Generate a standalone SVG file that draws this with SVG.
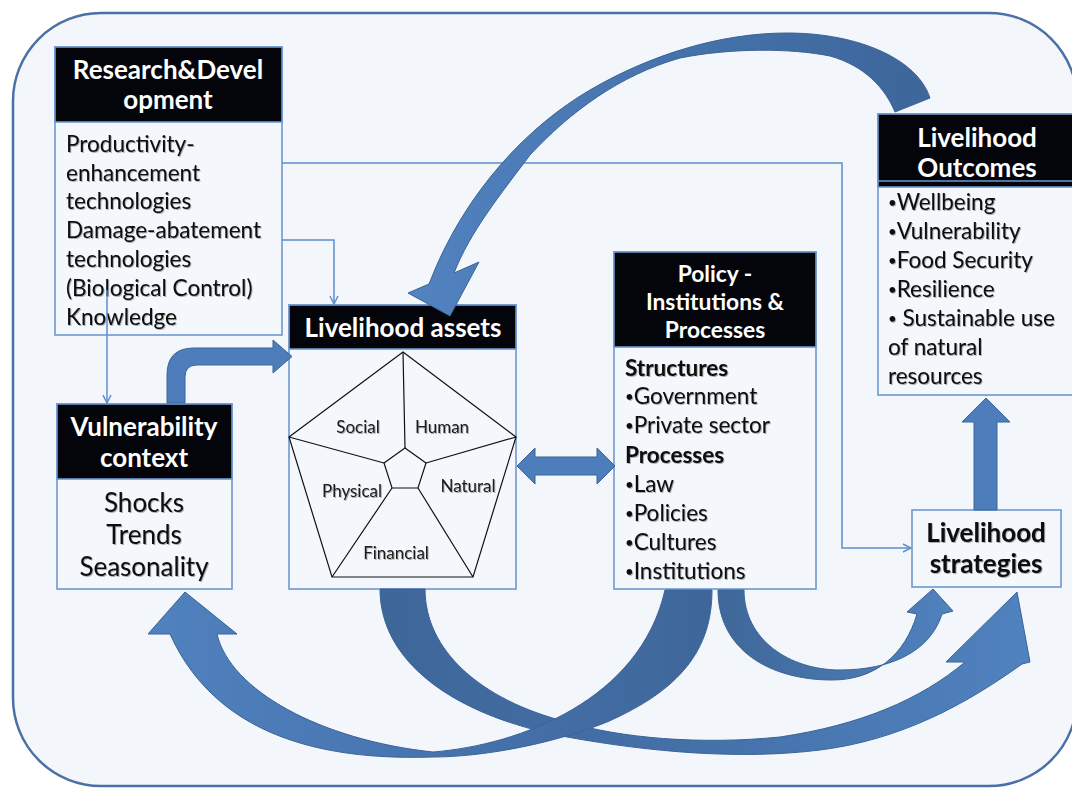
<svg xmlns="http://www.w3.org/2000/svg" width="1072" height="789" viewBox="0 0 1072 789">
<defs>
<style>
.frame{fill:#f3f6fa;stroke:#4b70a6;stroke-width:2.5}
.box{fill:#f4f7fb;stroke:#6f98d0;stroke-width:1.6}
.hdr{fill:#03050a;stroke:#6f98d0;stroke-width:1.6}
.ht{font-family:Lato,'Open Sans',sans-serif;font-weight:700;fill:#fff;text-anchor:middle;font-size:26px}
.bt{font-family:Lato,'Open Sans',sans-serif;fill:#0a0a0a;font-size:22.5px;filter:url(#ts)}
.bu{font-size:15px}
.b{font-weight:700}
.c{text-anchor:middle}
.pent{fill:none;stroke:#111;stroke-width:1.2}
.pl{font-family:Lato,'Open Sans',sans-serif;font-size:17px;fill:#1a1a1a;text-anchor:middle;filter:url(#ts)}
.conn{fill:none;stroke:#5d8fd0;stroke-width:1.5}
.big{stroke:#3a6497;stroke-width:1}
.solid{fill:#4d7ebb;stroke:#3a6497;stroke-width:1}
</style>
<filter id="ts" x="-5%" y="-20%" width="110%" height="140%">
<feDropShadow dx="1" dy="1" stdDeviation="0.7" flood-color="#000" flood-opacity="0.3"/>
</filter>
<marker id="ah" viewBox="0 0 10 10" refX="9" refY="5" markerWidth="10" markerHeight="10" markerUnits="userSpaceOnUse" orient="auto">
<path d="M1,1 L9,5 L1,9" fill="none" stroke="#5d8fd0" stroke-width="1.5"/>
</marker>
<linearGradient id="gTop" x1="0" y1="0" x2="1" y2="0">
<stop offset="0" stop-color="#5283c0"/><stop offset="0.5" stop-color="#4673ad"/><stop offset="1" stop-color="#3d6699"/>
</linearGradient>
<linearGradient id="gPV" x1="0" y1="0" x2="1" y2="0">
<stop offset="0" stop-color="#5082bf"/><stop offset="0.6" stop-color="#4571aa"/><stop offset="1" stop-color="#3e6699"/>
</linearGradient>
<linearGradient id="gAS" x1="0" y1="0" x2="1" y2="0">
<stop offset="0" stop-color="#3e6699"/><stop offset="0.5" stop-color="#4571aa"/><stop offset="1" stop-color="#5082bf"/>
</linearGradient>
<linearGradient id="gPS" x1="0" y1="0" x2="1" y2="0">
<stop offset="0" stop-color="#3f6799"/><stop offset="1" stop-color="#5082bf"/>
</linearGradient>
</defs>
<rect width="1072" height="789" fill="#ffffff"/>
<rect class="frame" x="13" y="13" width="1064" height="773" rx="88" ry="88"/>

<g id="research-development">
<rect class="box" x="55" y="47" width="227" height="288"/>
<rect class="hdr" x="55" y="47" width="227" height="75"/>
<text class="ht" x="168" y="79">Research&amp;Devel</text>
<text class="ht" x="168" y="109">opment</text>
<text class="bt" x="66" y="152">Productivity-</text>
<text class="bt" x="66" y="181">enhancement</text>
<text class="bt" x="66" y="209">technologies</text>
<text class="bt" x="66" y="238">Damage-abatement</text>
<text class="bt" x="66" y="267">technologies</text>
<text class="bt" x="66" y="296">(Biological Control)</text>
<text class="bt" x="66" y="325">Knowledge</text>
</g>

<g id="livelihood-assets">
<rect class="box" x="289" y="305" width="227" height="284"/>
<rect class="hdr" x="289" y="305" width="227" height="44"/>
<text class="ht" x="403" y="337">Livelihood assets</text>
<polygon class="pent" points="403,352 516,437 473,577 332,577 289,437"/>
<polygon class="pent" points="405,448 426,463 418,488 392,488 384,463"/>
<path class="pent" d="M405,448 L403,352 M426,463 L516,437 M418,488 L473,577 M392,488 L332,577 M384,463 L289,437"/>
<text class="pl" x="358" y="433">Social</text>
<text class="pl" x="442" y="433">Human</text>
<text class="pl" x="352" y="497">Physical</text>
<text class="pl" x="468" y="492">Natural</text>
<text class="pl" x="396" y="559">Financial</text>
</g>

<g id="vulnerability-context">
<rect class="box" x="57" y="404" width="175" height="185"/>
<rect class="hdr" x="57" y="404" width="175" height="75"/>
<text class="ht" x="144" y="436">Vulnerability</text>
<text class="ht" x="144" y="467">context</text>
<text class="bt c" x="144" y="512" style="font-size:26px">Shocks</text>
<text class="bt c" x="144" y="544" style="font-size:26px">Trends</text>
<text class="bt c" x="144" y="576" style="font-size:26px">Seasonality</text>
</g>

<g id="policy">
<rect class="box" x="614" y="252" width="202" height="337"/>
<rect class="hdr" x="614" y="252" width="202" height="95"/>
<text class="ht" x="715" y="282" style="font-size:22.8px">Policy -</text>
<text class="ht" x="715" y="310" style="font-size:22.8px">Institutions &amp;</text>
<text class="ht" x="715" y="338" style="font-size:22.8px">Processes</text>
<text class="bt b" x="625" y="376">Structures</text>
<text class="bt" x="625" y="404"><tspan class="bu" baseline-shift="2">•</tspan>Government</text>
<text class="bt" x="625" y="433"><tspan class="bu" baseline-shift="2">•</tspan>Private sector</text>
<text class="bt b" x="625" y="463">Processes</text>
<text class="bt" x="625" y="492"><tspan class="bu" baseline-shift="2">•</tspan>Law</text>
<text class="bt" x="625" y="521"><tspan class="bu" baseline-shift="2">•</tspan>Policies</text>
<text class="bt" x="625" y="550"><tspan class="bu" baseline-shift="2">•</tspan>Cultures</text>
<text class="bt" x="625" y="579"><tspan class="bu" baseline-shift="2">•</tspan>Institutions</text>
</g>

<g id="livelihood-outcomes">
<rect class="box" x="878" y="114" width="198" height="281"/>
<rect class="hdr" x="878" y="114" width="198" height="73"/>
<line x1="878" y1="181" x2="1076" y2="181" stroke="#6f98d0" stroke-width="1.5"/>
<text class="ht" x="977" y="147">Livelihood</text>
<text class="ht" x="977" y="177">Outcomes</text>
<text class="bt" x="888" y="210"><tspan class="bu" baseline-shift="2">•</tspan>Wellbeing</text>
<text class="bt" x="888" y="239"><tspan class="bu" baseline-shift="2">•</tspan>Vulnerability</text>
<text class="bt" x="888" y="268"><tspan class="bu" baseline-shift="2">•</tspan>Food Security</text>
<text class="bt" x="888" y="297"><tspan class="bu" baseline-shift="2">•</tspan>Resilience</text>
<text class="bt" x="888" y="326"><tspan class="bu" baseline-shift="2">•</tspan> Sustainable use</text>
<text class="bt" x="888" y="355">of natural</text>
<text class="bt" x="888" y="384">resources</text>
</g>

<g id="livelihood-strategies">
<rect class="box" x="912" y="510" width="149" height="77"/>
<text class="bt b c" x="986" y="542" style="font-size:26px">Livelihood</text>
<text class="bt b c" x="986" y="573" style="font-size:26px">strategies</text>
</g>

<g id="connectors">
<path class="conn" d="M282,163 H842 V548 H911" marker-end="url(#ah)"/>
<path class="conn" d="M282,240 H334 V304" marker-end="url(#ah)"/>
<path class="conn" d="M107,290 V403" marker-end="url(#ah)"/>
<path class="solid" d="M167,403 L167,375 Q167,348 194,348 L273,348 L273,340 L292,356.5 L273,373 L273,365 L197,365 Q185,365 185,377 L185,403 Z"/>
<path class="solid" d="M517,466 L535,448 L535,457 L597,457 L597,448 L615,466 L597,484 L597,475 L535,475 L535,484 Z"/>
<path class="solid" d="M986,398 L1010,422 L997,422 L997,510 L974,510 L974,422 L962,422 Z"/>
<path class="big" fill="url(#gTop)" d="M930,98 C918,60 860,33 787,33 C720,33 650,55 590,90 C530,125 465,190 429,284 L408,293 L450,316 L479,262 L454,273 C470,232 500,195 530,155 C570,112 620,75 680,58 C730,48 790,48 830,56 C865,66 885,88 895,112 Z"/>
<path class="big" fill="url(#gAS)" d="M380,589 C380,660 450,715 567,737 C650,752 740,760 820,750 C900,740 965,705 1022,664 L1030,662 L1017,592 L946,662 L965,662 C920,700 860,725 780,737 C700,745 620,738 567,722 C480,700 425,650 425,589 Z"/>
<path class="big" fill="url(#gPV)" d="M712,590 C712,650 680,690 607,722 C550,745 480,757 433,757 C340,760 220,745 170,634 L148,634 L185,592 L237,634 L217,634 C230,690 320,740 433,752 C520,745 640,700 665,590 Z"/>
<path class="big" fill="url(#gPS)" d="M718,590 C718,650 770,680 832,680 C875,680 905,655 917,614 L907,612 L933,589 L953,611 L942,614 C930,652 890,670 840,670 C790,670 744,640 744,590 Z"/>
</g>
</svg>
